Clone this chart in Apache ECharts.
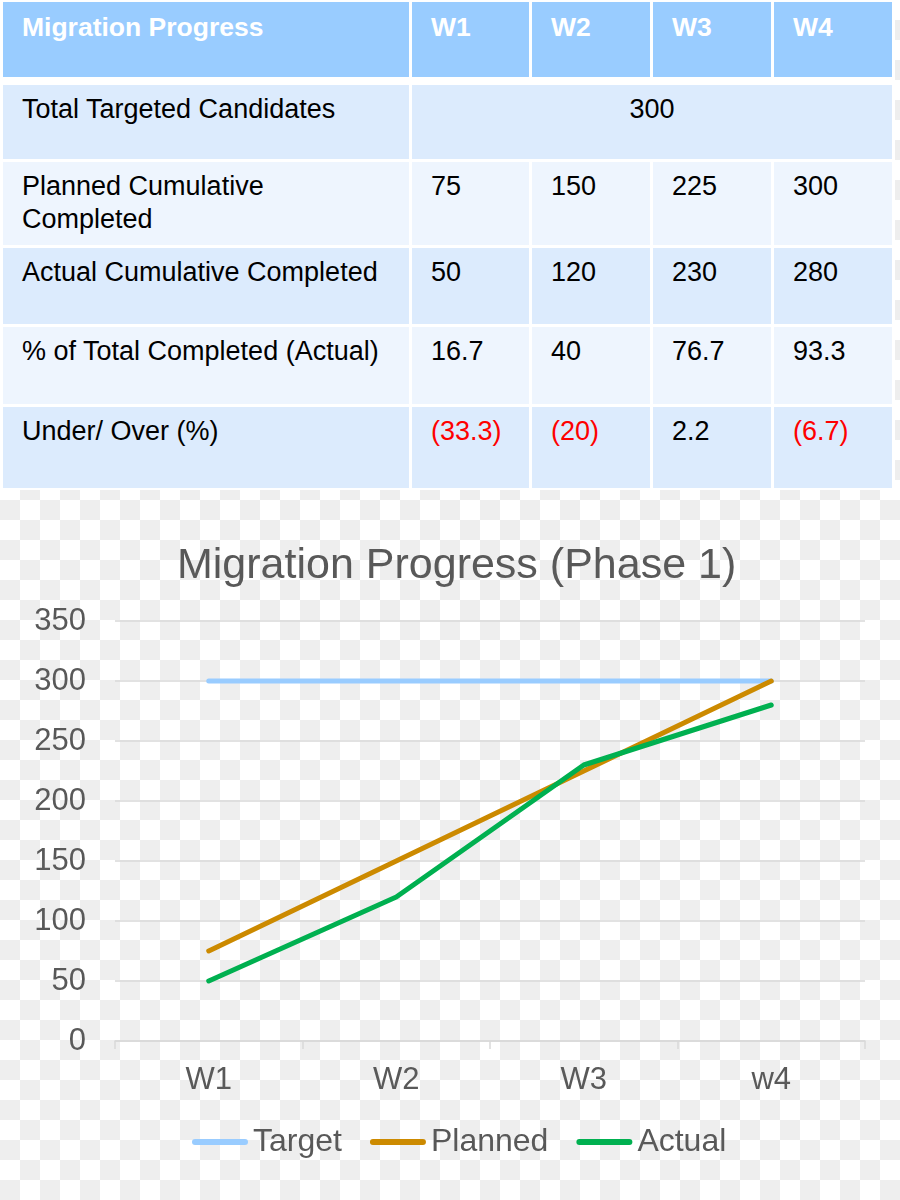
<!DOCTYPE html>
<html>
<head>
<meta charset="utf-8">
<script src="https://cdn.jsdelivr.net/npm/echarts@6/dist/echarts.min.js"></script>
<style>
html, body { margin: 0; padding: 0; width: 900px; height: 1200px; overflow: hidden; }
body {
  position: relative;
  font-family: "Liberation Sans", Arial, sans-serif;
  background: repeating-conic-gradient(#eeeeee 0% 25%, #ffffff 0% 50%) 0 0 / 40px 40px;
}
#tableWrap {
  position: absolute; left: 0; top: 0; width: 895px; height: 490px;
  background: #ffffff; box-sizing: border-box; padding: 2px 0 0 3px;
}
#tbl {
  display: grid;
  grid-template-columns: 406px 117px 118px 118px 118px;
  grid-template-rows: 75px 2px 74px 83px 76px 77px 81px;
  column-gap: 3px; row-gap: 3px;
}
.cell { box-sizing: border-box; padding: 8px 0 0 19px; font-size: 27px; line-height: 33px; color: #000; white-space: pre-line; }
.hdr { background: #99ccff; color: #fff; font-weight: bold; font-size: 26.5px; padding-top: 9px; }
.dark { background: #dcebfd; }
.light { background: #eef5fe; }
.spacer { background: transparent; padding: 0; }
.neg { color: #ff0000; }
.merged { grid-column: 2 / 6; text-align: center; padding-left: 0; }
#chart { position: absolute; left: 0; top: 490px; width: 900px; height: 710px; }
</style>
</head>
<body>
<div id="tableWrap"><div id="tbl"></div></div>
<div id="chart"></div>
<script>
// ---- data ----
const tableTitle = 'Migration Progress';
const weeks = ['W1', 'W2', 'W3', 'W4'];
const axisWeeks = ['W1', 'W2', 'W3', 'w4'];
const rowLabels = ['Total Targeted Candidates', 'Planned Cumulative\nCompleted', 'Actual Cumulative Completed', '% of Total Completed (Actual)', 'Under/ Over (%)'];
const totalTargeted = 300;
const target = [300, 300, 300, 300];
const planned = [75, 150, 225, 300];
const actual = [50, 120, 230, 280];
const pctCompleted = ['16.7', '40', '76.7', '93.3'];
const underOver = [-33.3, -20, 2.2, -6.7];
const seriesNames = ['Target', 'Planned', 'Actual'];
const chartTitle = 'Migration Progress (Phase 1)';

// ---- table ----
const tbl = document.getElementById('tbl');
function addCell(text, cls) {
  const d = document.createElement('div');
  d.className = 'cell ' + cls;
  d.textContent = text;
  tbl.appendChild(d);
  return d;
}
addCell(tableTitle, 'hdr');
weeks.forEach(w => addCell(w, 'hdr'));
for (let i = 0; i < 5; i++) { const s = document.createElement('div'); s.className = 'spacer'; tbl.appendChild(s); }
addCell(rowLabels[0], 'dark');
addCell(String(totalTargeted), 'dark merged');
addCell(rowLabels[1], 'light');
planned.forEach(v => addCell(String(v), 'light'));
addCell(rowLabels[2], 'dark');
actual.forEach(v => addCell(String(v), 'dark'));
addCell(rowLabels[3], 'light');
pctCompleted.forEach(v => addCell(v, 'light'));
addCell(rowLabels[4], 'dark');
underOver.forEach(v => {
  if (v < 0) addCell('(' + String(Math.abs(v)) + ')', 'dark neg');
  else addCell(String(v), 'dark');
});

// ---- chart ----
const colors = ['#99ccff', '#cc8a00', '#00b050'];
const values = [target, planned, actual];
const chart = echarts.init(document.getElementById('chart'), null, { renderer: 'canvas' });
const capsule = 'path://M3,0H53A3,3,0,0,1,53,6H3A3,3,0,0,1,3,0Z';
chart.setOption({
  animation: false,
  backgroundColor: 'transparent',
  textStyle: { fontFamily: '"Liberation Sans", Arial, sans-serif' },
  title: {
    text: chartTitle, left: 172, top: 50,
    textStyle: { fontSize: 43, fontWeight: 'normal', color: '#595959' }
  },
  legend: {
    data: seriesNames, left: 192, top: 636, padding: 0,
    itemWidth: 56, itemHeight: 6, itemGap: 28,
    icon: capsule,
    itemStyle: { borderWidth: 0 },
    textStyle: { fontSize: 32, color: '#595959' }
  },
  grid: { left: 115, right: 35, top: 131, bottom: 159 },
  xAxis: {
    type: 'category', data: axisWeeks, boundaryGap: true,
    axisLine: { lineStyle: { color: '#d9d9d9', width: 1.5 } },
    axisTick: { show: true, length: 8, interval: 0, lineStyle: { color: '#d9d9d9', width: 1.5 } },
    axisLabel: { fontSize: 31, color: '#595959', margin: 24 }
  },
  yAxis: {
    type: 'value', min: 0, max: 350, interval: 50,
    axisLine: { show: false }, axisTick: { show: false },
    splitLine: { lineStyle: { color: '#d9d9d9', width: 1.5 } },
    axisLabel: { fontSize: 31, color: '#595959', margin: 29 }
  },
  series: seriesNames.map((n, i) => ({
    name: n, type: 'line', data: values[i],
    symbol: 'none', showSymbol: false,
    itemStyle: { color: colors[i] },
    lineStyle: { color: colors[i], width: 5, cap: 'round', join: 'round' },
    z: 2 + i
  }))
});
</script>
</body>
</html>
